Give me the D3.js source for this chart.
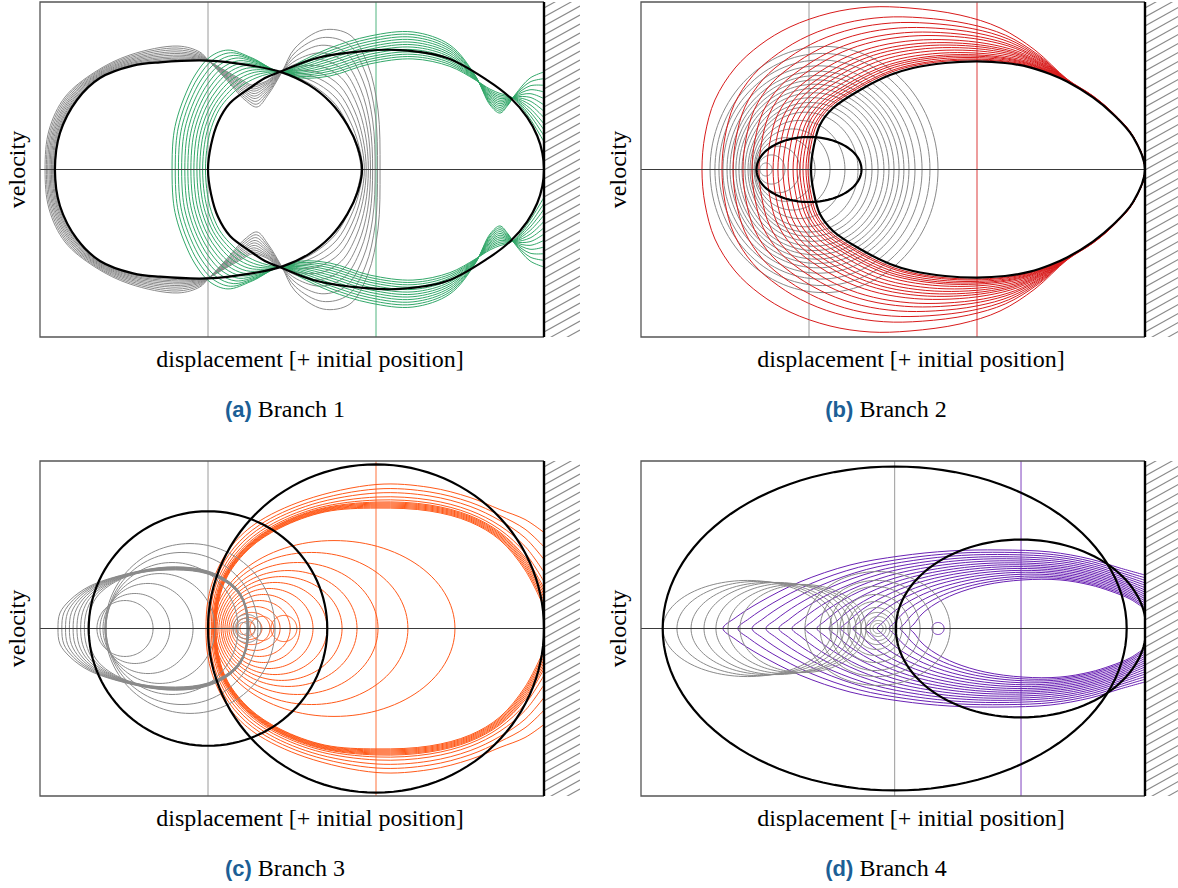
<!DOCTYPE html>
<html><head><meta charset="utf-8">
<script src="https://cdn.jsdelivr.net/npm/d3@7"></script>
<style>body{margin:0;background:#fff}</style>
</head><body>
<svg id="fig" width="1178" height="888"></svg>
<script>
// ================= DATA =================
const panelLetters = ["a", "b", "c", "d"];
const panelTitles = ["Branch 1", "Branch 2", "Branch 3", "Branch 4"];
const xLabel = "displacement [+ initial position]";
const yLabel = "velocity";
const xDomain = [0, 3];          // displacement, wall at 3
const yDomain = [-1, 1];         // velocity
const wallPosition = 3;
const familyColors = ["#33a86a", "#d81b1b", "#ff5a1a", "#6a22b4"];
const grayRefX = [1, 1, 1, 1.51];        // gray vertical reference line per panel
const colorRefX = [2, 2, 2, 2.262];      // coloured vertical reference line per panel

// ---- Panel (a) : upper halves (mirrored about velocity = 0) ----
const aBlackLeft = [[0.089,0],[0.119,0.218],[0.220,0.415],[0.357,0.546],[0.554,0.620],[0.714,0.640],[1.0,0.650],[1.25,0.622],[1.44,0.580],[1.60,0.505],[1.73,0.400],[1.83,0.265],[1.89,0.135],[1.917,0]];
const aBlackRight = [[1.0,0],[1.018,0.146],[1.060,0.284],[1.131,0.397],[1.25,0.487],[1.339,0.546],[1.44,0.588],[1.649,0.666],[1.923,0.707],[2.143,0.713],[2.423,0.666],[2.661,0.534],[2.80,0.428],[2.90,0.311],[2.96,0.200],[2.99,0.100],[3.0,0]];
const aGrayOuter = [[0.030,0],[0.054,0.236],[0.149,0.433],[0.327,0.582],[0.536,0.684],[0.821,0.737],[0.952,0.701],[1.0,0.654],[1.101,0.546],[1.220,0.415],[1.292,0.373],[1.357,0.445],[1.440,0.582],[1.518,0.725],[1.685,0.833],[1.845,0.803],[1.952,0.624],[2.012,0.355],[2.024,0]];
const aGrayInner = [[0.095,0],[0.119,0.218],[0.220,0.415],[0.357,0.546],[0.554,0.620],[0.774,0.644],[0.923,0.650],[1.0,0.644],[1.101,0.594],[1.202,0.540],[1.262,0.510],[1.339,0.528],[1.440,0.582],[1.548,0.534],[1.655,0.463],[1.756,0.367],[1.833,0.236],[1.881,0.116],[1.905,0]];
const aGrayStarts = [0.030, 0.038, 0.046, 0.054, 0.061, 0.068, 0.075, 0.081, 0.087, 0.092];
const aGreenOuter = [[0.786,0],[0.792,0.176],[0.810,0.284],[0.857,0.427],[0.923,0.564],[1.012,0.672],[1.119,0.713],[1.262,0.666],[1.440,0.582],[1.548,0.642],[1.726,0.725],[1.964,0.797],[2.220,0.821],[2.440,0.743],[2.589,0.564],[2.679,0.385],[2.738,0.337],[2.786,0.385],[2.827,0.445],[2.917,0.546],[3.0,0.582]];
const aGreenInner = [[1.0,0],[1.012,0.146],[1.036,0.248],[1.083,0.355],[1.143,0.427],[1.214,0.487],[1.298,0.534],[1.369,0.564],[1.440,0.582],[1.548,0.540],[1.726,0.546],[1.964,0.618],[2.220,0.648],[2.440,0.606],[2.589,0.534],[2.679,0.487],[2.738,0.463],[2.786,0.445],[2.827,0.415],[2.917,0.284],[3.0,0.134]];
const aGreenStarts = [0.786, 0.805, 0.824, 0.843, 0.862, 0.880, 0.898, 0.916, 0.934, 0.951, 0.968, 0.985];

// ---- Panel (b) ----
const bBlackSmall = [1.0, 0.3125, 0.194];            // [centre, half-width, half-height]
const bRedInner = [[1.012,0],[1.030,0.146],[1.065,0.266],[1.143,0.367],[1.304,0.475],[1.482,0.564],[1.619,0.606],[1.810,0.636],[2.0,0.645],[2.167,0.636],[2.315,0.610],[2.435,0.570],[2.536,0.525],[2.690,0.430],[2.810,0.330],[2.929,0.194],[3.0,0]];
const bRedOuter = [[0.363,0],[0.381,0.206],[0.440,0.415],[0.560,0.606],[0.708,0.743],[0.887,0.851],[1.125,0.934],[1.363,0.970],[1.601,0.964],[1.899,0.922],[2.137,0.845],[2.345,0.713],[2.536,0.540],[2.690,0.440],[2.810,0.338],[2.929,0.200],[3.0,0]];
const bRedStarts = [0.363, 0.482, 0.548, 0.607, 0.661, 0.702, 0.750, 0.786, 0.815, 0.845, 0.875, 0.905, 0.929, 0.946, 0.964, 0.982, 0.994];
const bGrayLoops = [ // [left, right, half-height]
  [0.708,0.780,0.039],[0.696,0.857,0.087],[0.690,0.946,0.139],[0.685,1.036,0.190],[0.679,1.125,0.242],
  [0.673,1.214,0.293],[0.661,1.292,0.342],[0.649,1.339,0.374],[0.637,1.375,0.400],[0.619,1.411,0.429],
  [0.601,1.446,0.458],[0.583,1.476,0.484],[0.565,1.506,0.509],[0.548,1.536,0.535],[0.530,1.565,0.561],
  [0.512,1.595,0.587],[0.488,1.631,0.619],[0.464,1.673,0.654],[0.440,1.720,0.693],[0.411,1.768,0.735]];

// ---- Panel (c) ----
const cBlackCircles = [[1.0, 0.71, 0.70], [2.0, 1.0, 0.98]];   // [centre, half-width, half-height]
const cGrayEggOuter = [[0.107,0],[0.119,0.093],[0.179,0.170],[0.298,0.254],[0.536,0.331],[0.756,0.367],[0.952,0.355],[1.083,0.307],[1.179,0.230],[1.226,0.134],[1.244,0]];
const cGrayEggInner = [[0.286,0],[0.298,0.098],[0.333,0.182],[0.417,0.260],[0.565,0.325],[0.756,0.349],[0.952,0.337],[1.083,0.290],[1.173,0.218],[1.220,0.128],[1.232,0]];
const cGrayEggStarts = [0.107, 0.130, 0.152, 0.175, 0.197, 0.220, 0.242, 0.264, 0.286];
const cGrayLoops = [[0.506,0.167,0.167],[0.565,0.208,0.209],[0.643,0.268,0.269],[0.714,0.327,0.328],[0.786,0.393,0.394],[0.845,0.452,0.454],[0.893,0.506,0.507],[1.208,0.036,0.036],[1.220,0.060,0.060],[1.232,0.083,0.084]];
const cOrangeOuter = [[0.988,0],[1.0,0.170],[1.042,0.319],[1.131,0.481],[1.280,0.624],[1.577,0.767],[2.006,0.860],[2.321,0.842],[2.560,0.782],[2.738,0.710],[2.887,0.651],[3.0,0.573]];
const cOrangeInner = [[1.048,0],[1.065,0.170],[1.119,0.319],[1.25,0.481],[1.429,0.600],[1.696,0.696],[2.006,0.719],[2.321,0.701],[2.560,0.636],[2.738,0.528],[2.887,0.349],[3.0,0.128]];
const cOrangeTops = [0.719, 0.725, 0.731, 0.737, 0.743, 0.749, 0.755, 0.767, 0.785, 0.809, 0.833, 0.860];
const cOrangeLoops = [[1.75,0.720,0.525],[1.616,0.574,0.454],[1.533,0.479,0.394],[1.476,0.411,0.346],[1.438,0.360,0.310],[1.399,0.310,0.275],[1.363,0.262,0.239],[1.330,0.217,0.203],[1.307,0.182,0.167],[1.283,0.146,0.131],[1.259,0.110,0.096],[1.244,0.077,0.066],[1.235,0.045,0.042],[1.321,0.071,0.072],[1.452,0.077,0.078]];

// ---- Panel (d) ----
const dBlackEllipses = [[1.51, 1.381, 0.967], [2.262, 0.745, 0.531]];
const dGrayLoops = [[0.634,0.503,0.287],[0.693,0.479,0.281],[0.753,0.455,0.275],[0.810,0.435,0.275],[0.863,0.417,0.269],[0.914,0.396,0.263],[0.964,0.375,0.263],[1.408,0.432,0.340],[1.402,0.336,0.287],[1.393,0.268,0.251],[1.393,0.208,0.203],[1.393,0.161,0.161],[1.399,0.125,0.125],[1.405,0.095,0.096],[1.411,0.071,0.072],[1.411,0.048,0.048],[1.411,0.030,0.030]];
const dPurpleOuter = [[0.488,0],[0.560,0.063],[0.708,0.158],[0.946,0.278],[1.244,0.379],[1.542,0.433],[1.839,0.463],[2.137,0.469],[2.435,0.457],[2.673,0.415],[2.851,0.361],[3.0,0.319]];
const dPurpleInner = [[1.601,0],[1.625,0.027],[1.673,0.087],[1.750,0.146],[1.869,0.206],[2.048,0.260],[2.274,0.290],[2.494,0.290],[2.673,0.260],[2.792,0.224],[2.911,0.176],[3.0,0.116]];
const dPurpleStarts = [0.488, 0.577, 0.661, 0.744, 0.821, 0.899, 0.976, 1.048, 1.119, 1.190, 1.262, 1.333, 1.405, 1.476, 1.542, 1.601];
const dPurpleLoop = [1.768, 0.036, 0.036];

// ================= LAYOUT =================
const panelOrigins = [[40, 2], [641, 2], [40, 461], [641, 461]];
const plotW = 504, plotH = 335;
const GRAY = "#8a8a8a";
const serif = "'Liberation Serif','Times New Roman',Times,serif";
const sans = "'Liberation Sans',Arial,Helvetica,sans-serif";
const svg = d3.select("#fig");
const defs = svg.append("defs");

function mirrorClosed(up) {
  const low = up.slice(1, -1).reverse().map(p => [p[0], -p[1]]);
  return up.concat(low);
}
function mirrorOpen(up) {
  const top = up.slice().reverse();
  const low = up.slice(1).map(p => [p[0], -p[1]]);
  return top.concat(low);
}
function blend(inner, outer, s) {
  return inner.map((p, i) => [p[0] + (outer[i][0] - p[0]) * s, p[1] + (outer[i][1] - p[1]) * s]);
}
const angles = d3.range(0, 360, 3).map(d => d * Math.PI / 180);
function ellipsePts(cx, rx, ry) { return angles.map(t => [cx + rx * Math.cos(t), ry * Math.sin(t)]); }
function fracOf(v, vIn, vOut) { return (v - vIn) / (vOut - vIn); }

function drawPanel(i) {
  const [ox, oy] = panelOrigins[i];
  const x = d3.scaleLinear().domain(xDomain).range([ox, ox + plotW]);
  const y = d3.scaleLinear().domain(yDomain).range([oy + plotH, oy]);
  const col = familyColors[i];
  const lc = d3.line().x(d => x(d[0])).y(d => y(d[1])).curve(d3.curveCatmullRomClosed.alpha(0.5));
  const lo = d3.line().x(d => x(d[0])).y(d => y(d[1])).curve(d3.curveCatmullRom.alpha(0.5));
  const le = d3.line().x(d => x(d[0])).y(d => y(d[1])).curve(d3.curveLinearClosed);

  const clipId = "clip" + i;
  defs.append("clipPath").attr("id", clipId).append("rect")
    .attr("x", x(0)).attr("y", y(1)).attr("width", x(3) - x(0)).attr("height", y(-1) - y(1));
  const hatchClip = "hclip" + i;
  defs.append("clipPath").attr("id", hatchClip).append("rect")
    .attr("x", x(wallPosition)).attr("y", y(1)).attr("width", 36).attr("height", y(-1) - y(1));

  const g = svg.append("g");
  const plot = g.append("g").attr("clip-path", `url(#${clipId})`);

  plot.append("line").attr("x1", x(grayRefX[i])).attr("x2", x(grayRefX[i])).attr("y1", y(1)).attr("y2", y(-1))
    .attr("stroke", "#9a9a9a").attr("stroke-width", 1);
  plot.append("line").attr("x1", x(colorRefX[i])).attr("x2", x(colorRefX[i])).attr("y1", y(1)).attr("y2", y(-1))
    .attr("stroke", col).attr("stroke-width", 1).attr("opacity", 0.85);

  const fam = (pts, color, closed) => plot.append("path")
    .attr("d", closed ? lc(pts) : lo(pts)).attr("fill", "none").attr("stroke", color).attr("stroke-width", 1);
  const ell = (e, color, w) => plot.append("path")
    .attr("d", le(ellipsePts(e[0], e[1], e[2]))).attr("fill", "none").attr("stroke", color).attr("stroke-width", w);
  const loopLR = (e, color) => ell([(e[0] + e[1]) / 2, (e[1] - e[0]) / 2, e[2]], color, 1);

  const blacks = [];
  if (i === 0) {
    aGrayStarts.forEach(v => fam(mirrorClosed(blend(aGrayInner, aGrayOuter, fracOf(v, aGrayInner[0][0], aGrayOuter[0][0]))), GRAY, true));
    aGreenStarts.forEach(v => fam(mirrorOpen(blend(aGreenInner, aGreenOuter, fracOf(v, aGreenInner[0][0], aGreenOuter[0][0]))), col, false));
    blacks.push(lc(mirrorClosed(aBlackLeft)), lc(mirrorClosed(aBlackRight)));
  } else if (i === 1) {
    bGrayLoops.forEach(e => loopLR(e, GRAY));
    bRedStarts.forEach(v => fam(mirrorClosed(blend(bRedInner, bRedOuter, fracOf(v, bRedInner[0][0], bRedOuter[0][0]))), col, true));
    blacks.push(le(ellipsePts(...bBlackSmall)), lc(mirrorClosed(bRedInner)));
  } else if (i === 2) {
    cOrangeTops.forEach(v => fam(mirrorOpen(blend(cOrangeInner, cOrangeOuter, fracOf(v, cOrangeInner[6][1], cOrangeOuter[6][1]))), col, false));
    cOrangeLoops.forEach(e => ell(e, col, 1));
    cGrayEggStarts.forEach(v => fam(mirrorClosed(blend(cGrayEggInner, cGrayEggOuter, fracOf(v, cGrayEggInner[0][0], cGrayEggOuter[0][0]))), GRAY, true));
    cGrayLoops.forEach(e => ell(e, GRAY, 1));
    cBlackCircles.forEach(e => blacks.push(le(ellipsePts(...e))));
  } else {
    dPurpleStarts.forEach(v => fam(mirrorOpen(blend(dPurpleInner, dPurpleOuter, fracOf(v, dPurpleInner[0][0], dPurpleOuter[0][0]))), col, false));
    ell(dPurpleLoop, col, 1);
    dGrayLoops.forEach(e => ell(e, GRAY, 1));
    dBlackEllipses.forEach(e => blacks.push(le(ellipsePts(...e))));
  }

  plot.append("line").attr("x1", x(0)).attr("x2", x(3)).attr("y1", y(0)).attr("y2", y(0))
    .attr("stroke", "#3a3a3a").attr("stroke-width", 1);

  blacks.forEach(d => plot.append("path").attr("d", d).attr("fill", "none").attr("stroke", "#000").attr("stroke-width", 2.2));

  g.append("path").attr("d", `M${x(wallPosition)},${y(1)}H${x(0)}V${y(-1)}H${x(wallPosition)}`)
    .attr("fill", "none").attr("stroke", "#555").attr("stroke-width", 1.3);

  const hg = g.append("g").attr("clip-path", `url(#${hatchClip})`);
  const wx = x(wallPosition);
  d3.range(y(1) - 30, y(-1) + 40, 9).forEach(yy => {
    hg.append("line").attr("x1", wx).attr("y1", yy).attr("x2", wx + 36).attr("y2", yy - 20)
      .attr("stroke", "#8a8a8a").attr("stroke-width", 1.1);
  });
  g.append("line").attr("x1", wx).attr("x2", wx).attr("y1", y(1)).attr("y2", y(-1))
    .attr("stroke", "#000").attr("stroke-width", 2.4);

  const cxMid = (x(0) + x(3)) / 2;
  svg.append("text").attr("x", cxMid + 18).attr("y", y(-1) + 30).attr("text-anchor", "middle")
    .attr("font-family", serif).attr("font-size", 24).attr("fill", "#000").text(xLabel);
  svg.append("text").attr("transform", `translate(${x(0) - 15},${(y(1) + y(-1)) / 2}) rotate(-90)`)
    .attr("text-anchor", "middle").attr("font-family", serif).attr("font-size", 24).attr("fill", "#000").text(yLabel);
  const cap = svg.append("text").attr("x", cxMid - 7).attr("y", y(-1) + 80).attr("text-anchor", "middle");
  cap.append("tspan").attr("font-family", sans).attr("font-weight", "bold").attr("font-size", 22)
    .attr("fill", "#1c5f96").text(`(${panelLetters[i]})`);
  cap.append("tspan").attr("font-family", serif).attr("font-size", 24).attr("fill", "#000").attr("dx", 6)
    .text(panelTitles[i]);
}

[0, 1, 2, 3].forEach(drawPanel);
</script>
</body></html>
